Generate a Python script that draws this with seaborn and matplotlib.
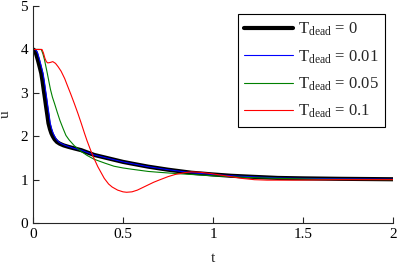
import numpy as np
import pandas as pd
import matplotlib
matplotlib.use("Agg")
import matplotlib.pyplot as plt
import seaborn as sns

# ---- data ----
t0 = [0, 0.005, 0.015, 0.027, 0.037, 0.046, 0.053, 0.06, 0.067, 0.073, 0.08, 0.086, 0.094, 0.102, 0.11, 0.12, 0.133, 0.148, 0.17, 0.194,
      0.23, 0.268, 0.3, 0.34, 0.4, 0.45, 0.5, 0.55, 0.64, 0.75, 0.88, 1.0, 1.1, 1.2, 1.36, 1.5, 1.7, 2.0]
u0 = [4.0, 3.99, 3.93, 3.76, 3.6, 3.45, 3.27, 3.06, 2.86, 2.68, 2.48, 2.3, 2.17, 2.07, 2.0, 1.93, 1.87, 1.83, 1.79, 1.76,
      1.72, 1.68, 1.63, 1.57, 1.51, 1.46, 1.41, 1.37, 1.3, 1.23, 1.16, 1.12, 1.09, 1.07, 1.04, 1.03, 1.02, 1.01]

t1 = [0, 0.01, 0.015, 0.025, 0.037, 0.047, 0.056, 0.063, 0.07, 0.077, 0.083, 0.09, 0.096, 0.104, 0.112, 0.12, 0.13, 0.143, 0.158, 0.18, 0.2,
      0.23, 0.268, 0.3, 0.34, 0.4, 0.45, 0.5, 0.55, 0.64, 0.75, 0.88, 1.0, 1.1, 1.2, 1.36, 1.5, 1.7, 2.0]
u1 = [4.0, 4.0, 3.99, 3.93, 3.76, 3.6, 3.45, 3.27, 3.06, 2.86, 2.68, 2.48, 2.3, 2.17, 2.07, 2.0, 1.93, 1.87, 1.83, 1.79, 1.76,
      1.72, 1.68, 1.63, 1.57, 1.51, 1.46, 1.41, 1.37, 1.3, 1.23, 1.16, 1.12, 1.09, 1.07, 1.04, 1.03, 1.02, 1.01]

t2 = [0, 0.046, 0.055, 0.064, 0.079, 0.097, 0.108, 0.12, 0.135, 0.15, 0.168, 0.183, 0.2, 0.23, 0.268, 0.3, 0.34, 0.4, 0.45,
      0.5, 0.55, 0.64, 0.7, 0.8, 0.88, 1.0, 1.2, 1.36, 1.6, 2.0]
u2 = [4.0, 4.0, 3.9, 3.76, 3.46, 3.08, 2.9, 2.75, 2.55, 2.36, 2.17, 2.02, 1.92, 1.78, 1.65, 1.56, 1.47, 1.38, 1.31,
      1.27, 1.24, 1.19, 1.17, 1.14, 1.12, 1.09, 1.05, 1.03, 1.01, 1.0]

t3 = [0, 0.05, 0.058, 0.066, 0.074, 0.082, 0.095, 0.11, 0.125, 0.14, 0.156, 0.176, 0.19, 0.21, 0.23, 0.25, 0.268, 0.286,
      0.3, 0.32, 0.34, 0.36, 0.38, 0.396, 0.42, 0.44, 0.47, 0.5, 0.52, 0.55, 0.58, 0.61, 0.64, 0.67, 0.7, 0.75, 0.79,
      0.84, 0.88, 0.93, 0.99, 1.05, 1.1, 1.16, 1.23, 1.3, 1.45, 1.7, 2.0]
u3 = [4.0, 4.0, 3.92, 3.8, 3.72, 3.69, 3.7, 3.72, 3.68, 3.6, 3.5, 3.33, 3.18, 2.97, 2.75, 2.52, 2.3, 2.07,
      1.9, 1.68, 1.48, 1.3, 1.15, 1.03, 0.9, 0.83, 0.76, 0.72, 0.71, 0.72, 0.76, 0.82, 0.88, 0.94, 0.99, 1.07, 1.12,
      1.16, 1.18, 1.17, 1.14, 1.1, 1.07, 1.03, 1.0, 0.99, 0.99, 1.0, 1.0]

labels = [r"$\mathregular{T_{dead}}$ = 0", r"$\mathregular{T_{dead}}$ = 0.01",
          r"$\mathregular{T_{dead}}$ = 0.05", r"$\mathregular{T_{dead}}$ = 0.1"]
xticks = [0, 0.5, 1, 1.5, 2]
xticklabels = ["0", "0.5", "1", "1.5", "2"]
yticks = [0, 1, 2, 3, 4, 5]

sns.set_style("ticks")
plt.rcParams["font.family"] = ["Liberation Serif", "DejaVu Serif"]
plt.rcParams["mathtext.default"] = "regular"
plt.rcParams["font.size"] = 11

fig = plt.figure(figsize=(3.99, 2.64), dpi=100)
ax = fig.add_axes([0.0827, 0.155, 0.9023, 0.822])

series = [(t0, u0, "black", 3.0), (t1, u1, "#0000ff", 0.8), (t2, u2, "#008000", 0.8), (t3, u3, "#ff0000", 0.8)]
for (tt, uu, c, lw), lab in zip(series, labels):
    df = pd.DataFrame({"t": tt, "u": uu})
    sns.lineplot(data=df, x="t", y="u", ax=ax, color=c, linewidth=lw, label=lab, sort=False)

ax.set_xlim(0, 2)
ax.set_ylim(0, 5)
ax.set_xticks(xticks)
ax.set_xticklabels(xticklabels)
ax.set_yticks(yticks)
ax.tick_params(direction="in", length=4, width=0.8, labelsize=11, colors="#262626", labelcolor="black")
for s in ["top", "right"]:
    ax.spines[s].set_visible(False)
for s in ["left", "bottom"]:
    ax.spines[s].set_color("#262626")
    ax.spines[s].set_linewidth(0.8)
ax.set_xlabel("t", fontsize=11, labelpad=8)
ax.set_ylabel("u", fontsize=11, labelpad=6)

leg = ax.legend(loc="upper right", bbox_to_anchor=(0.978, 0.963), borderaxespad=0,
                fancybox=False, framealpha=1, edgecolor="black", fontsize=12,
                handlelength=2.9, labelspacing=0.6, borderpad=0.4, handletextpad=0.3)
leg.get_frame().set_linewidth(0.8)

fig.savefig("out.png", dpi=100)
